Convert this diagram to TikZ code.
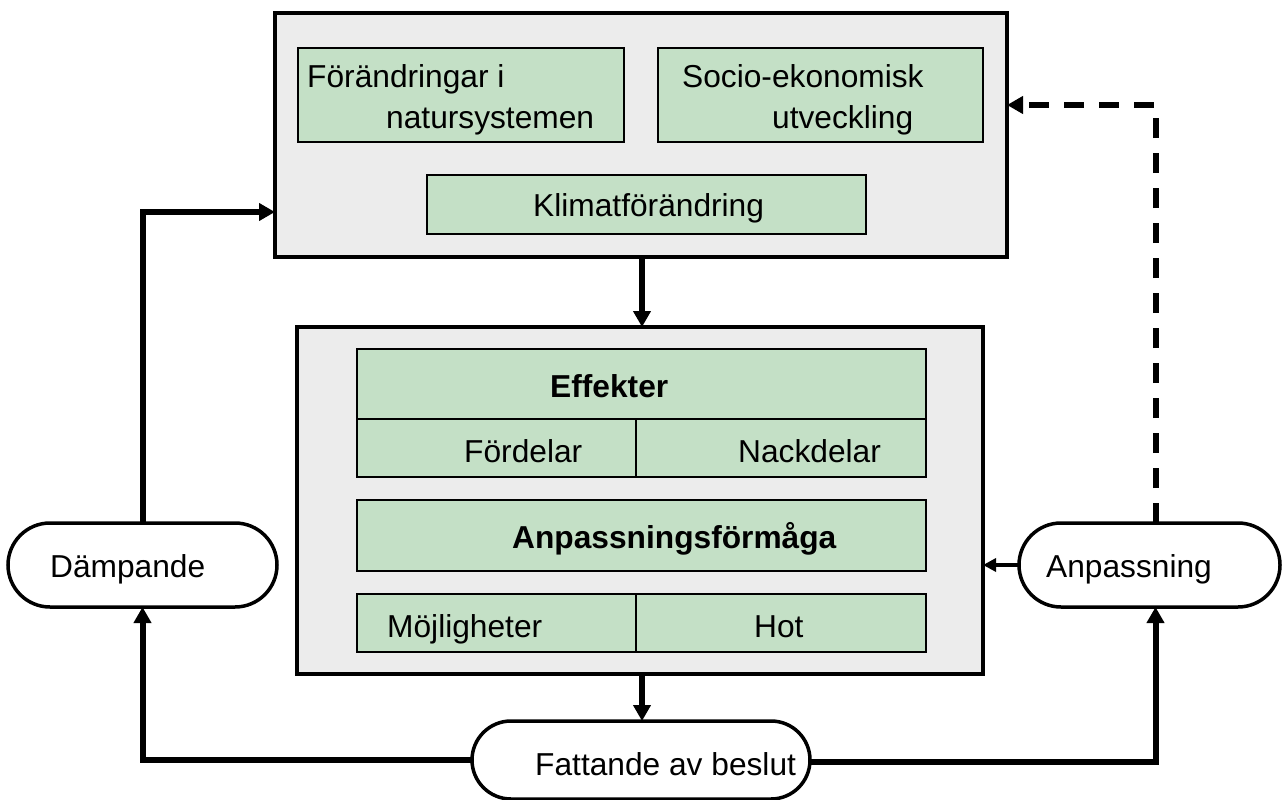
\documentclass[tikz,border=0pt]{standalone}
\usepackage{fontspec}
\setmainfont{Liberation Sans}
\usetikzlibrary{arrows.meta,shapes.misc}

\definecolor{panelgray}{RGB}{236,236,236}
\definecolor{cellgreen}{RGB}{196,224,198}

\tikzset{
  panel/.style={draw, line width=4pt, fill=panelgray, inner sep=0pt, outer sep=0pt},
  cell/.style={draw, line width=1.3pt, fill=cellgreen, inner sep=0pt, outer sep=0pt},
  term/.style={draw, line width=3.5pt, rounded rectangle, fill=white, inner sep=0pt, outer sep=0pt},
  txt/.style={anchor=base west, inner sep=0pt, font=\fontsize{31.7}{37}\selectfont},
  flow/.style={line width=6pt, -{Triangle[length=16pt,width=17pt]}},
  feed/.style={line width=4pt, -{Triangle[length=13pt,width=13pt]}},
}

\begin{document}
\begin{tikzpicture}[x=1pt, y=-1pt]

\useasboundingbox (0, 0) rectangle (1287, 800);

% upper panel
\node[panel, minimum width=732pt, minimum height=244pt] (top) at (641, 135) {};
\node[cell, minimum width=326pt, minimum height=94pt] (nat) at (461, 95) {};
\node[cell, minimum width=325pt, minimum height=94pt] (soc) at (820.5, 95) {};
\node[cell, minimum width=439pt, minimum height=59pt] (klim) at (646.5, 204.5) {};
\node[txt] (nat1) at (307, 88) {Förändringar i};
\node[txt] (nat2) at (386, 128) {natursystemen};
\node[txt] (soc1) at (682, 87) {Socio-ekonomisk};
\node[txt] (soc2) at (772, 128) {utveckling};
\node[txt] (klimt) at (533, 216) {Klimatförändring};

% lower panel
\node[panel, minimum width=686pt, minimum height=347pt] (mid) at (640, 500.5) {};
\node[cell, minimum width=569pt, minimum height=70pt] (eff) at (641.5, 384) {};
\node[cell, minimum width=279pt, minimum height=58pt] (ford) at (496.5, 448) {};
\node[cell, minimum width=290pt, minimum height=58pt] (nack) at (781, 448) {};
\node[cell, minimum width=569pt, minimum height=71pt] (anpf) at (641.5, 535.5) {};
\node[cell, minimum width=279pt, minimum height=58pt] (moj) at (496.5, 623) {};
\node[cell, minimum width=290pt, minimum height=58pt] (hot) at (781, 623) {};
\node[txt, font=\fontsize{31.7}{37}\selectfont\bfseries] (efft) at (550, 397) {Effekter};
\node[txt] (fordt) at (464, 462) {Fördelar};
\node[txt] (nackt) at (738, 462) {Nackdelar};
\node[txt, font=\fontsize{31.7}{37}\selectfont\bfseries] (anpft) at (512, 548) {Anpassningsförmåga};
\node[txt] (mojt) at (387, 637) {Möjligheter};
\node[txt] (hott) at (754, 637) {Hot};

% terminals
\node[term, minimum width=269pt, minimum height=84pt] (damp) at (142.5, 565) {};
\node[term, minimum width=261pt, minimum height=84pt] (anp) at (1149.5, 565) {};
\node[term, minimum width=338pt, minimum height=78pt] (fatt) at (641, 760) {};
\node[txt] (dampt) at (50, 577) {Dämpande};
\node[txt] (anpt) at (1046, 577) {Anpassning};
\node[txt] (fattt) at (535, 775) {Fattande av beslut};

% connectors
\coordinate (spine) at (642, 0);
\draw[flow] (top.south -| spine) -- (mid.north -| spine);
\draw[flow] (mid.south -| spine) -- (fatt.north -| spine);
\draw[flow] (fatt.west) -| (damp.south);
\draw[flow] ([yshift=-2pt]fatt.east) -| ([xshift=6pt]anp.south);
\draw[flow] (damp.north) |- ([yshift=-77pt]top.west);
\draw[feed] (anp.west) -- (mid.east |- anp.west);
\draw[flow, dash pattern=on 20pt off 15pt] ([xshift=6pt]anp.north) |- ([yshift=30pt]top.east);

\end{tikzpicture}
\end{document}
